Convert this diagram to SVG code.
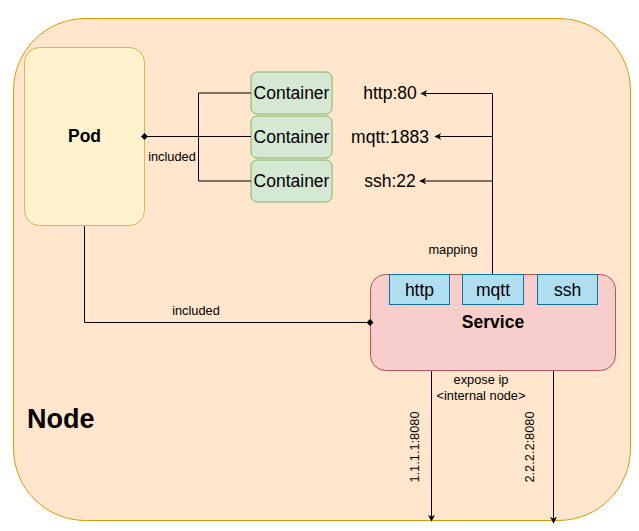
<svg xmlns="http://www.w3.org/2000/svg" width="639" height="531" viewBox="0 0 639 531">
<defs>
<style>
text{font-family:"Liberation Sans",Arial,Helvetica,sans-serif;fill:#000}
.t16{font-size:17.5px}
.t12{font-size:12.8px}
.b{font-weight:bold}
.edge{fill:none;stroke:#000;stroke-width:1}
.cont{fill:#d5e8d4;stroke:#82b366}
.port{fill:#b1ddf0;stroke:#10739e}
</style>
<marker id="arr" viewBox="0 0 10 10" refX="9" refY="5" markerWidth="7" markerHeight="7" markerUnits="userSpaceOnUse" orient="auto">
<path d="M0,0 L10,5 L0,10 L3,5 Z" fill="#000"/>
</marker>
<marker id="dia" viewBox="0 0 10 10" refX="5" refY="5" markerWidth="10" markerHeight="7" markerUnits="userSpaceOnUse" orient="auto">
<path d="M0,5 L5,0 L10,5 L5,10 Z" fill="#000"/>
</marker>
</defs>
<g id="node-host">
<rect x="13.5" y="18.5" width="617" height="502" rx="72" ry="72" fill="#ffe6cc" stroke="#d79b00"/>
<text x="27" y="428" font-size="27" class="b">Node</text>
</g>
<g id="pod">
<rect x="24.5" y="47.5" width="120" height="178" rx="15" ry="15" fill="#fff2cc" stroke="#d6b656"/>
<text x="84.5" y="142" class="t16 b" text-anchor="middle">Pod</text>
</g>
<g id="container1">
<rect x="251" y="72" width="81" height="42" rx="6" ry="6" class="cont"/>
<text x="291.5" y="99" class="t16" text-anchor="middle">Container</text>
</g>
<g id="container2">
<rect x="251" y="116" width="81" height="42" rx="6" ry="6" class="cont"/>
<text x="291.5" y="142.5" class="t16" text-anchor="middle">Container</text>
</g>
<g id="container3">
<rect x="251" y="160" width="81" height="42" rx="6" ry="6" class="cont"/>
<text x="291.5" y="187" class="t16" text-anchor="middle">Container</text>
</g>
<g id="port-labels">
<text x="390" y="99" class="t16" text-anchor="middle">http:80</text>
<text x="390" y="142.5" class="t16" text-anchor="middle">mqtt:1883</text>
<text x="390" y="187" class="t16" text-anchor="middle">ssh:22</text>
</g>
<g id="service">
<rect x="370.5" y="274.5" width="245" height="96" rx="15" ry="15" fill="#f8cecc" stroke="#b85450"/>
<text x="493" y="328" class="t16 b" text-anchor="middle">Service</text>
<rect x="389.5" y="274.5" width="60" height="30" class="port"/>
<text x="419.5" y="295.5" class="t16" text-anchor="middle">http</text>
<rect x="462.5" y="274.5" width="61" height="30" class="port"/>
<text x="493" y="295.5" class="t16" text-anchor="middle">mqtt</text>
<rect x="537.5" y="274.5" width="60" height="30" class="port"/>
<text x="567.5" y="295.5" class="t16" text-anchor="middle">ssh</text>
</g>
<g id="connectors">
<path class="edge" d="M251,93 H198.5 V136.5 H144.5" marker-end="url(#dia)"/>
<path class="edge" d="M251,136.5 H144.5"/>
<path class="edge" d="M251,181 H198.5 V136.5"/>
<text x="172" y="160.5" class="t12" text-anchor="middle">included</text>
<path class="edge" d="M84.5,226 V322.5 H370" marker-end="url(#dia)"/>
<text x="196" y="315" class="t12" text-anchor="middle">included</text>
<path class="edge" d="M492.5,274 V93.5 H421" marker-end="url(#arr)"/>
<path class="edge" d="M492.5,136.5 H435" marker-end="url(#arr)"/>
<path class="edge" d="M492.5,181 H420" marker-end="url(#arr)"/>
<text x="453" y="253.5" class="t12" text-anchor="middle">mapping</text>
<path class="edge" d="M431.5,371 V521" marker-end="url(#arr)"/>
<path class="edge" d="M553.5,371 V523" marker-end="url(#arr)"/>
<text x="481" y="383.5" class="t12" text-anchor="middle">expose ip</text>
<text x="481" y="399.5" class="t12" text-anchor="middle">&lt;internal node&gt;</text>
<text transform="translate(419,447) rotate(-90)" class="t12" text-anchor="middle">1.1.1.1:8080</text>
<text transform="translate(534,447) rotate(-90)" class="t12" text-anchor="middle">2.2.2.2:8080</text>
</g>
</svg>
